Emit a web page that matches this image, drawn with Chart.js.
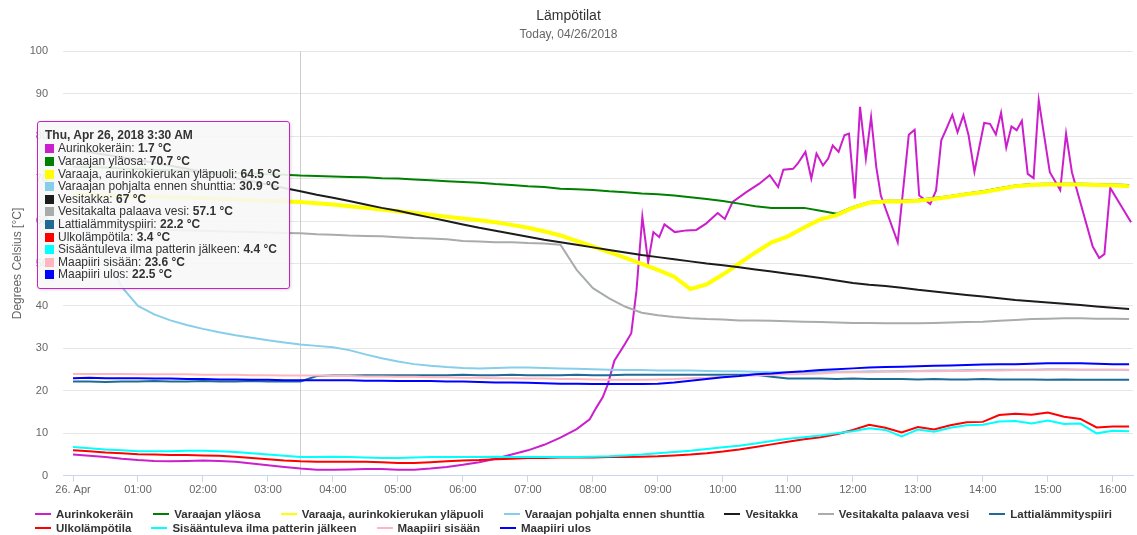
<!DOCTYPE html>
<html>
<head>
<meta charset="utf-8">
<title>Lämpötilat</title>
<script src="https://cdn.jsdelivr.net/npm/chart.js@4.4.1/dist/chart.umd.min.js"></script>
<style>
  html, body { margin: 0; padding: 0; background: #fff; }
  #wrap { position: relative; width: 1137px; height: 535px; font-family: "Liberation Sans", Arial, sans-serif; }
  #chart { position: absolute; left: 0; top: 0; }
  #tip {
    position: absolute; left: 37px; top: 121px; display: none;
    padding: 7px 8px 7px 7px; white-space: nowrap;
    background: rgba(247, 247, 247, 0.9); border: 1px solid #cc1fcc; border-radius: 3px;
    box-shadow: 1px 1px 3px rgba(0, 0, 0, 0.15);
    font-size: 12px; line-height: 12.6px; color: #333;
  }
  #tip .tt-title { font-weight: bold; margin-bottom: 0.8px; }
  #tip .tt-row i { display: inline-block; width: 9px; height: 9px; margin-right: 4px; vertical-align: -1px; }
  #legend { position: absolute; left: 35px; top: 507px; width: 1100px; display: flex; flex-wrap: wrap; }
  #legend .item {
    display: flex; align-items: center; height: 14px; margin-right: 20px;
    font-size: 11.5px; line-height: 14px; font-weight: bold; color: #333; white-space: nowrap;
  }
  #legend .item i { display: inline-block; width: 16px; height: 2px; margin-right: 5px; }
</style>
</head>
<body>
<div id="wrap">
  <canvas id="chart" width="1137" height="535"></canvas>
  <div id="tip"></div>
  <div id="legend"></div>
</div>
<script>
// Aika tunteina keskiyöstä (15 min välein)
const hours = [0, 0.25, 0.5, 0.75, 1, 1.25, 1.5, 1.75, 2, 2.25, 2.5, 2.75, 3, 3.25, 3.5, 3.75,
  4, 4.25, 4.5, 4.75, 5, 5.25, 5.5, 5.75, 6, 6.25, 6.5, 6.75, 7, 7.25, 7.5, 7.75,
  8, 8.25, 8.5, 8.75, 9, 9.25, 9.5, 9.75, 10, 10.25, 10.5, 10.75, 11, 11.25, 11.5, 11.75,
  12, 12.25, 12.5, 12.75, 13, 13.25, 13.5, 13.75, 14, 14.25, 14.5, 14.75, 15, 15.25, 15.5, 15.75,
  16, 16.25];
const hourTicks = [0, 1, 2, 3, 4, 5, 6, 7, 8, 9, 10, 11, 12, 13, 14, 15, 16];
const hourLabels = ['26. Apr', '01:00', '02:00', '03:00', '04:00', '05:00', '06:00', '07:00', '08:00',
  '09:00', '10:00', '11:00', '12:00', '13:00', '14:00', '15:00', '16:00'];

// Aurinkokeräin mitataan tiheämmin, omat aikaleimat
const solarHours = [0, 0.25, 0.5, 0.75, 1, 1.25, 1.5, 1.75, 2, 2.25, 2.5, 2.75, 3, 3.25, 3.5, 3.75,
  4, 4.25, 4.5, 4.75, 5, 5.25, 5.5, 5.75, 6, 6.25, 6.5, 6.75, 7, 7.25, 7.5, 7.75,
  7.95, 8.05, 8.15, 8.23, 8.33, 8.49, 8.59, 8.67, 8.76, 8.85,
  8.93, 9.02, 9.1, 9.26, 9.44, 9.59, 9.74, 9.92, 10.03, 10.15,
  10.36, 10.56, 10.72, 10.85, 10.93, 11.08, 11.15, 11.27, 11.36, 11.44,
  11.54, 11.62, 11.69, 11.78, 11.87, 11.94, 12.03, 12.11, 12.2, 12.28,
  12.36, 12.43, 12.69, 12.86, 12.95, 13.02, 13.11, 13.19, 13.28, 13.36,
  13.43, 13.53, 13.61, 13.7, 13.78, 13.87, 13.95, 14.02, 14.11, 14.2,
  14.28, 14.36, 14.44, 14.52, 14.6, 14.69, 14.78, 14.86, 14.93, 15.03,
  15.19, 15.28, 15.37, 15.69, 15.79, 15.87, 15.96, 16.28];
const solarTemp = [5.0, 4.7, 4.4, 4.0, 3.7, 3.5, 3.4, 3.5, 3.6, 3.5, 3.3, 2.9, 2.5, 2.1, 1.7, 1.4,
  1.4, 1.5, 1.6, 1.6, 1.4, 1.4, 1.7, 2.1, 2.6, 3.2, 4.0, 5.0, 6.0, 7.3, 9.0, 11.0,
  13.3, 16.0, 18.5, 21.6, 27.1, 31.0, 33.6, 43.6, 61.0, 50.3,
  57.4, 56.2, 59.2, 57.4, 57.8, 57.9, 59.4, 61.9, 60.5, 64.5,
  66.8, 68.8, 70.8, 68.0, 72.1, 72.3, 73.5, 76.3, 70.0, 75.9,
  73.1, 74.7, 77.8, 76.3, 80.2, 80.6, 65.3, 86.9, 74.7, 84.5,
  72.7, 66.0, 55.0, 80.3, 81.5, 66.0, 65.0, 64.0, 67.2, 79.0,
  81.4, 85.0, 80.9, 84.9, 80.2, 71.6, 77.8, 83.1, 82.9, 80.4,
  85.5, 77.3, 82.3, 81.4, 83.6, 71.1, 70.1, 88.4, 81.4, 71.5,
  67.3, 80.6, 71.5, 54.0, 51.3, 52.2, 67.8, 59.7];

const tankTop = [72.8, 72.7, 72.6, 72.4, 72.3, 72.1, 72.0, 71.8, 71.6, 71.5,
  71.3, 71.2, 71.0, 70.9, 70.7, 70.6, 70.5, 70.4, 70.3, 70.1,
  70.0, 69.8, 69.6, 69.4, 69.2, 69.0, 68.7, 68.5, 68.2, 68.0,
  67.6, 67.5, 67.3, 67.0, 66.8, 66.5, 66.3, 66.0, 65.6, 65.2,
  64.7, 64.1, 63.5, 63.1, 63.1, 63.1, 62.4, 61.7, 63.3, 64.5,
  64.8, 64.8, 65.0, 65.4, 65.9, 66.5, 67.0, 67.7, 68.4, 68.7,
  68.8, 68.8, 68.8, 68.7, 68.6, 68.5];
const tankCoil = [66.2, 66.1, 66.0, 65.9, 65.8, 65.7, 65.6, 65.5, 65.4, 65.2,
  65.1, 64.9, 64.8, 64.6, 64.5, 64.2, 63.9, 63.5, 63.1, 62.7,
  62.3, 61.9, 61.5, 61.0, 60.6, 60.2, 59.7, 59.1, 58.4, 57.6,
  56.6, 55.3, 54.0, 52.7, 51.3, 49.9, 48.5, 46.9, 44.0, 45.1,
  47.4, 50.0, 52.6, 55.0, 56.4, 58.5, 60.4, 61.4, 63.1, 64.3,
  64.6, 64.6, 64.8, 65.2, 65.7, 66.3, 66.8, 67.5, 68.2, 68.5,
  68.6, 68.6, 68.6, 68.5, 68.4, 68.2];
const tankBottom = [60.0, 57.5, 52.0, 44.5, 40.0, 38.0, 36.6, 35.5, 34.6, 33.8,
  33.1, 32.5, 31.9, 31.4, 30.9, 30.6, 30.3, 29.6, 28.6, 27.7,
  26.9, 26.3, 25.9, 25.6, 25.4, 25.3, 25.4, 25.5, 25.5, 25.4,
  25.3, 25.2, 25.1, 25.0, 24.9, 24.9, 24.8, 24.8, 24.8, 24.7,
  24.6, 24.6, 24.5, 24.4, 24.4, 24.4, 24.5, 24.5, 24.5, 24.6,
  24.6, 24.7, 24.7, 24.8, 24.8, 24.9, 24.9, 25.0, 25.0, 25.0,
  25.1, 25.1, 25.0, 25.0, 25.0, 24.9];
const stove = [76.8, 76.2, 75.6, 75.0, 74.4, 73.7, 73.0, 72.3, 71.6, 70.9,
  70.1, 69.4, 68.6, 67.8, 67.0, 66.2, 65.5, 64.7, 63.9, 63.1,
  62.4, 61.6, 60.8, 60.0, 59.2, 58.4, 57.7, 57.0, 56.3, 55.6,
  55.0, 54.4, 53.8, 53.2, 52.6, 52.0, 51.5, 51.0, 50.5, 50.0,
  49.6, 49.1, 48.6, 48.1, 47.6, 47.1, 46.6, 46.0, 45.4, 45.0,
  44.7, 44.3, 43.8, 43.4, 43.0, 42.6, 42.2, 41.8, 41.4, 41.1,
  40.8, 40.5, 40.2, 39.9, 39.6, 39.3];
const stoveReturn = [58.5, 58.4, 58.3, 58.2, 58.1, 58.0, 57.9, 57.8, 57.7, 57.6,
  57.5, 57.4, 57.3, 57.2, 57.1, 56.9, 56.8, 56.6, 56.5, 56.4,
  56.2, 56.0, 55.9, 55.7, 55.3, 55.2, 55.0, 55.0, 54.8, 54.7,
  54.4, 48.5, 44.2, 41.8, 39.8, 38.4, 37.8, 37.4, 37.1, 36.9,
  36.8, 36.6, 36.6, 36.5, 36.4, 36.3, 36.2, 36.1, 36.0, 36.0,
  35.9, 35.9, 35.9, 36.0, 36.1, 36.2, 36.3, 36.5, 36.7, 36.9,
  37.0, 37.1, 37.1, 37.0, 37.0, 36.9];
const floorLoop = [22.2, 22.2, 22.1, 22.2, 22.2, 22.3, 22.2, 22.2, 22.3, 22.2,
  22.2, 22.3, 22.2, 22.2, 22.2, 23.5, 23.6, 23.6, 23.7, 23.7,
  23.7, 23.7, 23.7, 23.7, 23.8, 23.7, 23.7, 23.8, 23.7, 23.7,
  23.7, 23.8, 23.7, 23.7, 23.8, 23.8, 23.8, 23.8, 23.8, 23.8,
  23.8, 23.8, 23.8, 23.3, 22.9, 22.9, 22.9, 22.8, 22.9, 22.8,
  22.8, 22.8, 22.7, 22.8, 22.7, 22.7, 22.8, 22.7, 22.7, 22.7,
  22.6, 22.7, 22.6, 22.6, 22.6, 22.6];
const outdoor = [6.0, 5.8, 5.5, 5.3, 5.1, 5.0, 4.9, 4.9, 4.8, 4.7,
  4.5, 4.2, 3.9, 3.6, 3.4, 3.3, 3.3, 3.3, 3.3, 3.2,
  3.0, 3.0, 3.2, 3.4, 3.6, 3.7, 3.9, 4.0, 4.2, 4.2,
  4.3, 4.3, 4.3, 4.4, 4.4, 4.5, 4.6, 4.8, 5.0, 5.3,
  5.7, 6.2, 6.8, 7.4, 8.0, 8.6, 9.1, 9.8, 10.8, 12.0,
  11.3, 10.2, 11.5, 10.9, 11.9, 12.6, 12.7, 14.3, 14.6, 14.4,
  14.9, 13.9, 13.4, 11.4, 11.6, 11.6];
const supplyAir = [6.8, 6.5, 6.2, 6.0, 5.8, 5.8, 5.8, 5.9, 5.9, 5.8,
  5.6, 5.3, 5.0, 4.7, 4.4, 4.4, 4.5, 4.4, 4.3, 4.2,
  4.2, 4.3, 4.4, 4.4, 4.4, 4.4, 4.5, 4.4, 4.4, 4.4,
  4.4, 4.4, 4.5, 4.6, 4.8, 5.0, 5.3, 5.6, 5.9, 6.3,
  6.7, 7.1, 7.6, 8.2, 8.7, 9.1, 9.5, 10.0, 10.5, 11.2,
  10.8, 9.3, 10.9, 10.4, 11.3, 11.9, 12.0, 12.8, 12.9, 12.3,
  13.0, 12.2, 12.3, 10.0, 10.6, 10.5];
const groundIn = [24.0, 24.0, 24.0, 24.0, 23.9, 23.9, 23.9, 23.9, 23.8, 23.8,
  23.8, 23.7, 23.7, 23.6, 23.6, 23.6, 23.5, 23.5, 23.4, 23.4,
  23.3, 23.3, 23.2, 23.2, 23.1, 23.1, 23.0, 23.0, 22.9, 22.9,
  22.8, 22.8, 22.7, 22.6, 22.6, 22.6, 22.7, 22.8, 23.0, 23.1,
  23.3, 23.5, 23.6, 23.8, 23.9, 24.0, 24.1, 24.3, 24.4, 24.4,
  24.5, 24.5, 24.6, 24.6, 24.7, 24.7, 24.8, 24.8, 24.9, 24.9,
  25.0, 25.0, 25.0, 25.0, 25.0, 25.0];
const groundOut = [23.0, 23.1, 23.0, 23.0, 23.0, 22.9, 22.9, 22.8, 22.8, 22.7,
  22.7, 22.6, 22.6, 22.5, 22.5, 22.5, 22.5, 22.5, 22.4, 22.4,
  22.3, 22.3, 22.3, 22.2, 22.2, 22.1, 22.0, 22.0, 21.9, 21.8,
  21.7, 21.7, 21.6, 21.6, 21.6, 21.6, 21.7, 22.0, 22.4, 22.8,
  23.2, 23.5, 23.9, 24.1, 24.4, 24.6, 24.9, 25.1, 25.3, 25.5,
  25.6, 25.7, 25.8, 25.9, 26.0, 26.1, 26.2, 26.3, 26.3, 26.4,
  26.5, 26.5, 26.5, 26.4, 26.3, 26.3];

// Hetki, jonka lukemat näytetään tooltipissa
const shownHour = 3.5;

const series = [
  { name: 'Aurinkokeräin', color: '#cc1fcc', x: solarHours, y: solarTemp },
  { name: 'Varaajan yläosa', color: '#008000', x: hours, y: tankTop },
  { name: 'Varaaja, aurinkokierukan yläpuoli', color: '#ffff00', x: hours, y: tankCoil, width: 4 },
  { name: 'Varaajan pohjalta ennen shunttia', color: '#87ceeb', x: hours, y: tankBottom },
  { name: 'Vesitakka', color: '#1c1c1c', x: hours, y: stove },
  { name: 'Vesitakalta palaava vesi', color: '#a9acac', x: hours, y: stoveReturn },
  { name: 'Lattialämmityspiiri', color: '#1f6b96', x: hours, y: floorLoop },
  { name: 'Ulkolämpötila', color: '#ff0000', x: hours, y: outdoor },
  { name: 'Sisääntuleva ilma patterin jälkeen', color: '#00ffff', x: hours, y: supplyAir },
  { name: 'Maapiiri sisään', color: '#ffb6c1', x: hours, y: groundIn },
  { name: 'Maapiiri ulos', color: '#0000ff', x: hours, y: groundOut }
];

Chart.defaults.font.family = '"Liberation Sans", Arial, sans-serif';

function clockText(h) {
  const hh = Math.floor(h);
  const mm = Math.round((h - hh) * 60);
  const h12 = hh % 12 === 0 ? 12 : hh % 12;
  return 'Thu, Apr 26, 2018 ' + h12 + ':' + String(mm).padStart(2, '0') + ' ' + (hh < 12 ? 'AM' : 'PM');
}

// HTML-tooltip, jotta arvot saa lihavoitua
function renderTip(context) {
  const tooltip = context.tooltip;
  const el = document.getElementById('tip');
  if (!tooltip.dataPoints || !tooltip.dataPoints.length) {
    el.style.display = 'none';
    return;
  }
  let html = '<div class="tt-title">' + tooltip.title.join(' ') + '</div>';
  tooltip.dataPoints.forEach(dp => {
    html += '<div class="tt-row"><i style="background:' + dp.dataset.borderColor + '"></i>' +
      dp.dataset.label + ': <b>' + dp.parsed.y + ' °C</b></div>';
  });
  el.innerHTML = html;
  el.style.display = 'block';
}

// Pystyviiva aktiivisen hetken kohdalle
const crosshair = {
  id: 'crosshair',
  beforeDatasetsDraw(chart) {
    const act = chart.tooltip ? chart.tooltip.getActiveElements() : [];
    if (!act.length) return;
    const x = Math.round(act[0].element.x) + 0.5;
    const ctx = chart.ctx;
    ctx.save();
    ctx.strokeStyle = '#cccccc';
    ctx.lineWidth = 1;
    ctx.beginPath();
    ctx.moveTo(x, chart.chartArea.top);
    ctx.lineTo(x, chart.chartArea.bottom);
    ctx.stroke();
    ctx.restore();
  }
};

const ctx = document.getElementById('chart').getContext('2d');
const chart = new Chart(ctx, {
  type: 'line',
  data: {
    datasets: series.map((s, i) => ({
      label: s.name,
      data: s.x.map((h, k) => ({ x: h, y: s.y[k] })),
      borderColor: s.color,
      backgroundColor: s.color,
      borderWidth: s.width || 2,
      pointRadius: 0,
      pointHoverRadius: 0,
      tension: 0,
      order: series.length - i // myöhemmät sarjat päällimmäisiksi
    }))
  },
  plugins: [crosshair],
  options: {
    responsive: false,
    animation: false,
    events: [],
    layout: { padding: { left: 4, right: 4, top: 0, bottom: 36 } },
    scales: {
      x: {
        type: 'linear',
        min: -0.154,
        max: 16.31,
        afterBuildTicks: scale => { scale.ticks = hourTicks.map(v => ({ value: v })); },
        ticks: {
          autoSkip: false,
          maxRotation: 0,
          padding: 2,
          color: '#666666',
          font: { size: 11 },
          callback: (value, index) => hourLabels[index]
        },
        grid: { drawOnChartArea: false, drawTicks: true, tickLength: 6, color: '#ccd6eb' },
        border: { color: '#ccd6eb' }
      },
      y: {
        min: 0,
        max: 100,
        afterFit: scale => { scale.width = 59; },
        ticks: { stepSize: 10, padding: 15, color: '#666666', font: { size: 11 } },
        grid: { color: '#e6e6e6', drawTicks: false },
        border: { display: false },
        title: {
          display: true,
          text: 'Degrees Celsius [°C]',
          color: '#666666',
          font: { size: 12 },
          padding: { top: 6, bottom: 6 }
        }
      }
    },
    plugins: {
      legend: { display: false },
      title: {
        display: true,
        text: 'Lämpötilat',
        color: '#333333',
        font: { size: 14, weight: 'normal' },
        padding: { top: 8, bottom: 0 }
      },
      subtitle: {
        display: true,
        text: 'Today, 04/26/2018',
        color: '#666666',
        font: { size: 12 },
        padding: { top: 3, bottom: 9 }
      },
      tooltip: {
        enabled: false,
        external: renderTip,
        callbacks: { title: items => clockText(items[0].parsed.x) }
      }
    }
  }
});

// Selite HTML:nä kahdelle riville
const legendEl = document.getElementById('legend');
chart.data.datasets.forEach(ds => {
  const item = document.createElement('span');
  item.className = 'item';
  item.innerHTML = '<i style="background:' + ds.borderColor + '"></i>' + ds.label;
  legendEl.appendChild(item);
});

// Näytetään klo 3:30 lukemat
const active = series.map((s, i) => ({ datasetIndex: i, index: s.x.indexOf(shownHour) }));
chart.tooltip.setActiveElements(active, {
  x: chart.scales.x.getPixelForValue(shownHour),
  y: chart.scales.y.getPixelForValue(50)
});
chart.update();
</script>
</body>
</html>
